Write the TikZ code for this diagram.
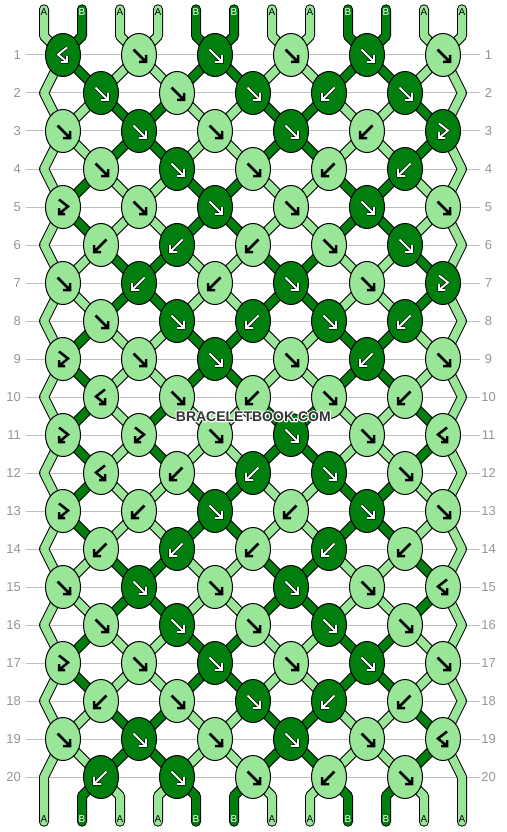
\documentclass[tikz,border=0pt]{standalone}
\usepackage{fontspec}
\setmainfont{Liberation Sans}
\usetikzlibrary{shapes.geometric}
\pgfdeclarelayer{paper}
\pgfdeclarelayer{grid}
\pgfdeclarelayer{strings}
\pgfsetlayers{paper,grid,strings,main}
\definecolor{cL}{RGB}{153,230,153}
\definecolor{cD}{RGB}{0,127,14}
\definecolor{rowgray}{RGB}{190,190,190}
\definecolor{numgray}{RGB}{150,150,150}
\definecolor{wmk}{RGB}{51,51,51}
\newcommand\arrowf[1]{\path[#1] (-5.5,-5.5) -- (7,7) (0,7) -- (7,7) -- (7,0);}
\newcommand\arrowb[1]{\path[#1] (5.5,-5.5) -- (-7,7) (0,7) -- (-7,7) -- (-7,0);}
\newcommand\arrowr[1]{\path[#1] (-4,-7.5) -- (5,-0.5) -- (-4,7) (-4,1) -- (-4,7) -- (2,7);}
\newcommand\arrowl[1]{\path[#1] (4,-7.5) -- (-5,-0.5) -- (4,7) (4,1) -- (4,7) -- (-2,7);}
\newcommand\haloOn{\special{pdf:literal direct 2 Tr 2.4 w 1 j}}
\newcommand\haloOff{\special{pdf:literal direct 0 Tr}}
\tikzset{
  knotnode/.style={ellipse, draw=black, line width=1pt, minimum width=35pt, minimum height=43pt, inner sep=0pt},
  str/.style={draw=black, line width=1pt, double=#1, double distance=8pt, line cap=round, line join=round},
  arrL/.style={draw=black, line width=2.5pt, line join=miter},
  arrD/.style={draw=black, double=white, line width=0.6pt, double distance=1.9pt, line join=miter},
  rowline/.style={draw=rowgray, line width=1pt},
  rownum/.style={text=numgray, font=\fontsize{13}{13}\selectfont, inner sep=0pt},
  lab/.style={font=\fontsize{10}{10}\selectfont, inner sep=0pt},
  wmstyle/.style={font=\fontsize{14}{14}\selectfont\bfseries, inner sep=0pt},
}
\begin{document}
\begin{tikzpicture}[x=1pt,y=-1pt]
\begin{pgfonlayer}{paper}
\fill[white] (0,0) rectangle (506,832);
\end{pgfonlayer}
\useasboundingbox (0,0) rectangle (506,832);

% grid lines and row numbers
\begin{pgfonlayer}{grid}
\foreach \kr in {1,...,20}{
  \pgfmathsetmacro\ky{55+38*(\kr-1)}
  \coordinate (gl-\kr) at (26,\ky);
  \coordinate (gr-\kr) at (480,\ky);
  \draw[rowline] (gl-\kr) -- (gr-\kr);
  \node[rownum, anchor=east] (ln-\kr) at (21,\ky) {\kr};
  \node[rownum] (rn-\kr) at (488.5,\ky) {\kr};
}
\end{pgfonlayer}

% knots
\foreach \kr/\row in {
 1/{D/l,L/f,D/f,L/f,D/f,L/f},
 2/{D/f,L/f,D/f,D/b,D/f},
 3/{L/f,D/f,L/f,D/f,L/b,D/r},
 4/{L/f,D/f,L/f,L/b,D/b},
 5/{L/r,L/f,D/f,L/f,D/f,L/f},
 6/{L/b,D/b,L/b,L/f,D/f},
 7/{L/f,D/b,L/b,D/f,L/f,D/r},
 8/{L/f,D/f,D/b,D/f,D/b},
 9/{L/r,L/f,D/f,L/f,D/b,L/f},
 10/{L/l,L/f,L/b,L/f,L/b},
 11/{L/r,L/r,L/f,D/f,L/f,L/l},
 12/{L/l,L/b,D/b,D/f,L/f},
 13/{L/r,L/b,D/f,L/b,D/f,L/f},
 14/{L/b,D/b,L/b,D/b,L/b},
 15/{L/f,D/f,L/f,D/f,L/f,L/l},
 16/{L/f,D/f,L/f,D/f,L/f},
 17/{L/r,L/f,D/f,L/f,D/f,L/f},
 18/{L/b,L/f,D/f,D/b,L/b},
 19/{L/f,D/f,L/f,D/f,L/f,L/l},
 20/{D/b,D/f,L/f,L/b,L/f}}{
  \foreach \kcol/\ktyp [count=\kc] in \row {
    \pgfmathsetmacro\kx{(mod(\kr,2)==1 ? 63 : 101) + 76*(\kc-1)}
    \pgfmathsetmacro\ky{55+38*(\kr-1)}
    \node[knotnode, fill=c\kcol] (k-\kr-\kc) at (\kx,\ky) {};
    \begin{scope}[shift={(k-\kr-\kc.center)}]
      \csname arrow\ktyp\endcsname{arr\kcol}
    \end{scope}
  }
}

% strings
\begin{pgfonlayer}{strings}
% top ends
\foreach \sc [count=\pp] in {L,D,L,L,D,D,L,L,D,D,L,L}{
  \pgfmathsetmacro\xp{44+38*(\pp-1)}
  \pgfmathtruncatemacro\hu{(\pp+1)/2}
  \coordinate (top-\pp) at (\xp,9.3);
  \draw[str=c\sc] (top-\pp) -- (\xp,36) -- (k-1-\hu.center);
}
% between rows
\foreach \kr/\st in {
 1/{L,D,L,L,D,D,L,L,D,D,L,L},
 2/{L,L,D,D,L,L,D,D,L,L,D,L},
 3/{L,L,D,D,L,L,D,D,L,L,D,L},
 4/{L,D,L,L,D,D,L,L,D,D,L,L},
 5/{L,D,L,L,D,D,L,L,D,D,L,L},
 6/{L,L,D,D,L,L,D,D,L,L,D,L},
 7/{L,L,D,D,L,L,D,D,L,L,D,L},
 8/{L,D,L,L,D,D,L,L,D,D,L,L},
 9/{L,D,L,L,D,D,L,L,D,D,L,L},
 10/{L,D,L,D,L,L,D,D,L,L,D,L},
 11/{L,D,L,D,L,L,D,D,L,L,D,L},
 12/{L,D,L,L,D,D,L,L,D,D,L,L},
 13/{L,D,L,L,D,D,L,L,D,D,L,L},
 14/{L,L,D,D,L,L,D,D,L,L,D,L},
 15/{L,L,D,D,L,L,D,D,L,L,D,L},
 16/{L,D,L,L,D,D,L,L,D,D,L,L},
 17/{L,D,L,L,D,D,L,L,D,D,L,L},
 18/{L,L,D,D,L,L,D,D,L,L,D,L},
 19/{L,L,D,D,L,L,D,D,L,L,D,L}}{
  \foreach \sc [count=\pp] in \st {
    \ifnum\pp>1 \ifnum\pp<12
      \pgfmathtruncatemacro\krn{\kr+1}
      \pgfmathtruncatemacro\ka{mod(\kr,2)==1 ? (\pp+1)/2 : \pp/2}
      \pgfmathtruncatemacro\kb{mod(\kr,2)==1 ? \pp/2 : (\pp+1)/2}
      \draw[str=c\sc] (k-\kr-\ka.center) -- (k-\krn-\kb.center);
    \fi\fi
  }
}
% bottom ends
\foreach \sc [count=\pp] in {L,D,L,L,D,D,L,L,D,D,L,L}{
  \pgfmathsetmacro\xp{44+38*(\pp-1)}
  \coordinate (bot-\pp) at (\xp,821.7);
  \ifnum\pp>1 \ifnum\pp<12
    \pgfmathtruncatemacro\ka{\pp/2}
    \draw[str=c\sc] (k-20-\ka.center) -- (\xp,796) -- (bot-\pp);
  \fi\fi
}
% edge strings
\foreach \kr in {1,3,...,17}{
  \pgfmathtruncatemacro\krn{\kr+2}
  \pgfmathsetmacro\vy{55+38*\kr}
  \coordinate (le-\kr) at (44,\vy);
  \coordinate (re-\kr) at (462,\vy);
  \draw[str=cL] (k-\kr-1.center) -- (le-\kr) -- (k-\krn-1.center);
  \draw[str=cL] (k-\kr-6.center) -- (re-\kr) -- (k-\krn-6.center);
}
\coordinate (le-19) at (44,777);
\coordinate (re-19) at (462,777);
\draw[str=cL] (k-19-1.center) -- (le-19) -- (bot-1);
\draw[str=cL] (k-19-6.center) -- (re-19) -- (bot-12);
\end{pgfonlayer}

% string letters
\foreach \lt/\tc [count=\pp] in {A/black,B/white,A/black,A/black,B/white,B/white,A/black,A/black,B/white,B/white,A/black,A/black}{
  \pgfmathsetmacro\xp{44+38*(\pp-1)}
  \node[lab, text=\tc] (tl-\pp) at (\xp,12) {\lt};
  \node[lab, text=\tc] (bl-\pp) at (\xp,819) {\lt};
}

% watermark: white halo (stroked text) under dark text
\node[wmstyle, text=white] (wmhalo) at (253.3,416.3) {\haloOn BRACELETBOOK.COM\haloOff};
\node[wmstyle, text=wmk] (wm) at (wmhalo.center) {BRACELETBOOK.COM};
\end{tikzpicture}
\end{document}
